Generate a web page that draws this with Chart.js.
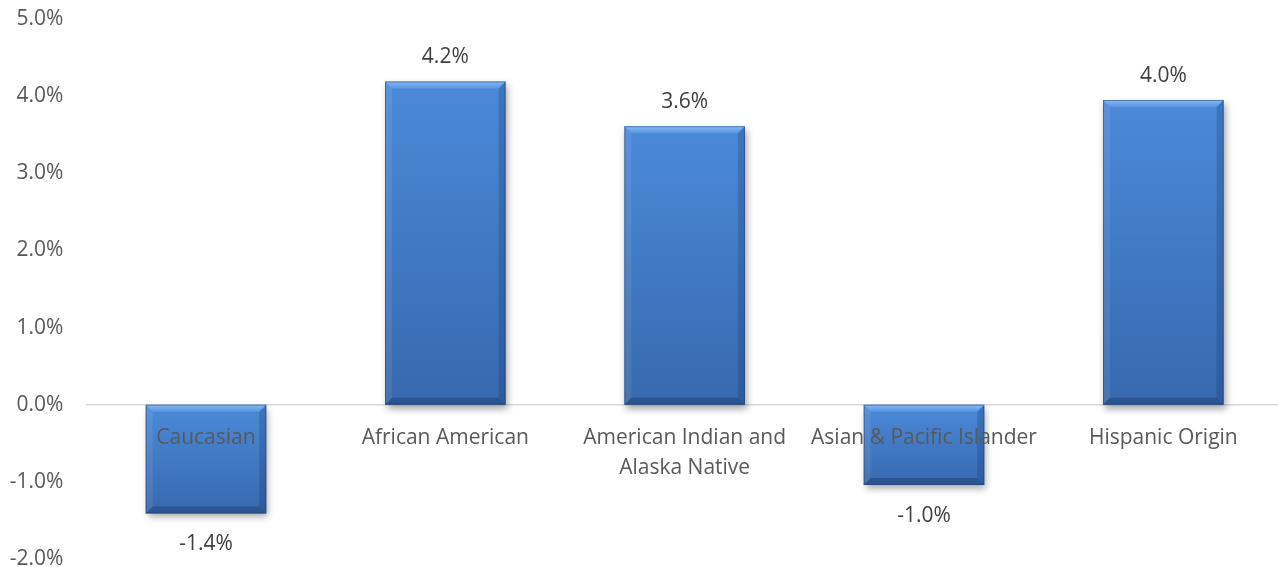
<!DOCTYPE html>
<html>
<head>
<meta charset="utf-8">
<script src="https://cdn.jsdelivr.net/npm/chart.js@4.4.1/dist/chart.umd.min.js"></script>
<style>
  html, body { margin: 0; padding: 0; background: #fff; overflow: hidden; }
  #wrap { width: 1283px; height: 567px; position: relative; }
</style>
</head>
<body>
<div id="wrap"><canvas id="chart"></canvas></div>
<script>
const categories = [
  "Caucasian",
  "African American",
  ["American Indian and", "Alaska Native"],
  "Asian & Pacific Islander",
  "Hispanic Origin",
];
const changePct = [-1.41, 4.19, 3.61, -1.04, 3.95];
const yTicks = { min: -2, max: 5, step: 1 };

const FONT = "'Open Sans', 'Noto Sans', sans-serif";

function barGradient(ctx) {
  const chart = ctx.chart;
  const y = chart.scales.y;
  if (!y || ctx.raw === undefined) return "#4279c4";
  const a = y.getPixelForValue(ctx.raw);
  const b = y.getPixelForValue(0);
  if (!isFinite(a) || !isFinite(b)) return "#4279c4";
  const top = Math.min(a, b), bottom = Math.max(a, b);
  const g = chart.ctx.createLinearGradient(0, top, 0, bottom);
  g.addColorStop(0, "#4b8ad9");
  g.addColorStop(1, "#3769ae");
  return g;
}

// soft drop shadow + bevel edges like the office "3D" bar style
const bevelPlugin = {
  id: "bevel",
  beforeDatasetsDraw(chart) {
    const c = chart.ctx;
    c.save();
    c.shadowColor = "rgba(0,0,0,0.35)";
    c.shadowBlur = 7;
    c.shadowOffsetX = 2;
    c.shadowOffsetY = 4;
  },
  afterDatasetsDraw(chart) {
    const c = chart.ctx;
    c.restore();
    const meta = chart.getDatasetMeta(0);
    meta.data.forEach((bar) => {
      const p = bar.getProps(["x", "y", "base", "width"], true);
      const l = p.x - p.width / 2, r = p.x + p.width / 2;
      const t = Math.min(p.y, p.base), btm = Math.max(p.y, p.base);
      const s = 7;
      const quad = (pts, fill) => {
        c.beginPath();
        c.moveTo(pts[0][0], pts[0][1]);
        for (let i = 1; i < pts.length; i++) c.lineTo(pts[i][0], pts[i][1]);
        c.closePath();
        c.fillStyle = fill;
        c.fill();
      };
      const tg = c.createLinearGradient(0, t, 0, t + s);
      tg.addColorStop(0, "rgba(160,205,255,0.75)");
      tg.addColorStop(1, "rgba(120,180,245,0.35)");
      quad([[l, t], [r, t], [r - s, t + s], [l + s, t + s]], tg);
      quad([[l, t], [l + s, t + s], [l + s, btm - s], [l, btm]], "rgba(255,255,255,0.08)");
      quad([[r, t], [r, btm], [r - s, btm - s], [r - s, t + s]], "rgba(20,40,80,0.22)");
      quad([[l, btm], [l + s, btm - s], [r - s, btm - s], [r, btm]], "rgba(20,40,80,0.32)");
      c.strokeStyle = "rgba(30,60,110,0.5)";
      c.lineWidth = 1;
      c.strokeRect(l + 0.5, t + 0.5, p.width - 1, btm - t - 1);
    });
  },
};

const valueLabels = {
  id: "valueLabels",
  afterDraw(chart) {
    const c = chart.ctx;
    const meta = chart.getDatasetMeta(0);
    c.save();
    c.font = "21px " + FONT;
    c.fillStyle = "#404040";
    c.textAlign = "center";
    c.textBaseline = "middle";
    meta.data.forEach((bar, i) => {
      const v = changePct[i];
      const y = v >= 0 ? bar.y - 24 : bar.y + 31;
      c.fillText(v.toFixed(1) + "%", bar.x, y);
    });
    c.restore();
  },
};

new Chart(document.getElementById("chart"), {
  type: "bar",
  data: {
    labels: categories,
    datasets: [
      {
        data: changePct,
        backgroundColor: barGradient,
        borderWidth: 0,
        categoryPercentage: 1,
        barPercentage: 0.504,
      },
    ],
  },
  options: {
    responsive: true,
    maintainAspectRatio: false,
    animation: false,
    layout: { padding: { top: 19, right: 0, bottom: 8, left: 0 } },
    plugins: { legend: { display: false }, tooltip: { enabled: false } },
    scales: {
      x: {
        position: { y: 0 },
        grid: { display: false, drawTicks: false },
        border: { display: true, color: "#d9d9d9", width: 1.5 },
        ticks: {
          z: 1,
          color: "#595959",
          padding: 18,
          maxRotation: 0,
          autoSkip: false,
          font: { family: FONT, size: 21, lineHeight: 1.43 },
        },
      },
      y: {
        min: yTicks.min,
        max: yTicks.max,
        grid: { display: false, drawTicks: false },
        border: { display: false },
        afterFit: (s) => {
          s.width = 86.3;
          s.paddingTop = 0;
          s.paddingBottom = 0;
        },
        ticks: {
          stepSize: yTicks.step,
          color: "#595959",
          padding: 23,
          font: { family: FONT, size: 21 },
          callback: (v) => v.toFixed(1) + "%",
        },
      },
    },
  },
  plugins: [bevelPlugin, valueLabels],
});
</script>
</body>
</html>
